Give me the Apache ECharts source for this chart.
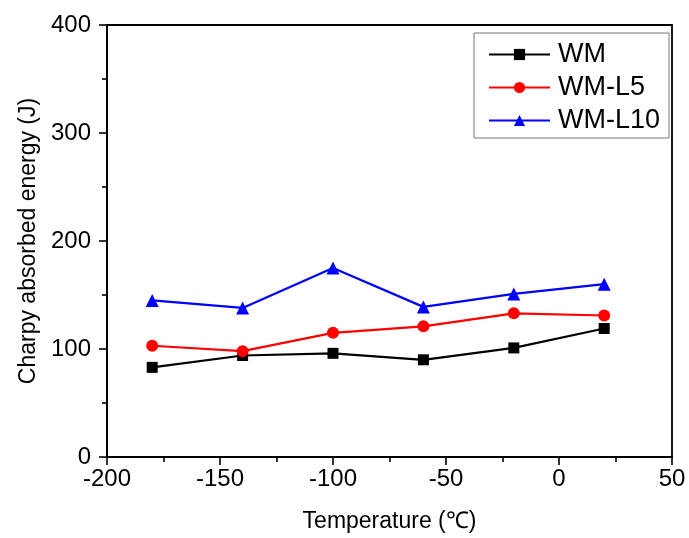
<!DOCTYPE html>
<html>
<head>
<meta charset="utf-8">
<script src="https://cdn.jsdelivr.net/npm/echarts@6/dist/echarts.min.js"></script>
<style>
html,body{margin:0;padding:0;background:#fff;}
#c{width:689px;height:538px;}
</style>
</head>
<body>
<div id="c"></div>
<script>
var temperatures = [-180, -140, -100, -60, -20, 20];
var seriesNames = ['WM', 'WM-L5', 'WM-L10'];
var wm = [83, 94, 96, 90, 101, 119];
var wmL5 = [103, 98, 115, 121, 133, 131];
var wmL10 = [145, 138, 175, 139, 151, 160];
var xTicks = [-200, -150, -100, -50, 0, 50];
var yTicks = [0, 100, 200, 300, 400];

function pairs(vals) { return temperatures.map(function (t, i) { return [t, vals[i]]; }); }

var chart = echarts.init(document.getElementById('c'), null, { renderer: 'canvas' });
var font = 'Liberation Sans, Arial, sans-serif';
var axisCommon = {
  axisLine: { show: true, onZero: false, lineStyle: { color: '#000', width: 1.8 } },
  axisTick: { show: true, inside: false, length: 8, lineStyle: { color: '#000', width: 1.6 } },
  minorTick: { show: true, splitNumber: 2, length: 5, lineStyle: { color: '#000', width: 1.6 } },
  splitLine: { show: false }
};
chart.setOption({
  animation: false,
  backgroundColor: '#fff',
  grid: { left: 107, right: 17, top: 25, bottom: 80, show: true, borderColor: '#000', borderWidth: 1.8, backgroundColor: 'transparent' },
  legend: {
    orient: 'vertical', left: 474, top: 33,
    data: seriesNames,
    itemWidth: 61, itemHeight: 14, itemGap: 6,
    borderColor: '#777', borderWidth: 1, padding: [8, 9, 4, 14],
    textStyle: { fontFamily: font, fontSize: 27, color: '#000', padding: [0, 0, 0, 3] }
  },
  xAxis: Object.assign({
    type: 'value', min: xTicks[0], max: xTicks[xTicks.length - 1], interval: 50,
    name: 'Temperature (\u2103)', nameLocation: 'middle', nameGap: 53,
    nameTextStyle: { fontFamily: font, fontSize: 23, color: '#000' },
    axisLabel: { fontFamily: font, fontSize: 24, color: '#000', margin: 10 }
  }, axisCommon),
  yAxis: Object.assign({
    type: 'value', min: yTicks[0], max: yTicks[yTicks.length - 1], interval: 100,
    name: 'Charpy absorbed energy (J)', nameLocation: 'middle', nameGap: 67,
    nameTextStyle: { fontFamily: font, fontSize: 23, color: '#000' },
    axisLabel: { fontFamily: font, fontSize: 24, color: '#000', margin: 16 }
  }, axisCommon),
  series: [
    { name: seriesNames[0], type: 'line', data: pairs(wm), symbol: 'rect', symbolSize: 11,
      lineStyle: { color: '#000', width: 2.2 }, itemStyle: { color: '#000' } },
    { name: seriesNames[1], type: 'line', data: pairs(wmL5), symbol: 'circle', symbolSize: 12,
      lineStyle: { color: '#ff0000', width: 2.2 }, itemStyle: { color: '#ff0000' } },
    { name: seriesNames[2], type: 'line', data: pairs(wmL10), symbol: 'triangle', symbolSize: 13,
      lineStyle: { color: '#0000ff', width: 2.2 }, itemStyle: { color: '#0000ff' } }
  ]
});
</script>
</body>
</html>
